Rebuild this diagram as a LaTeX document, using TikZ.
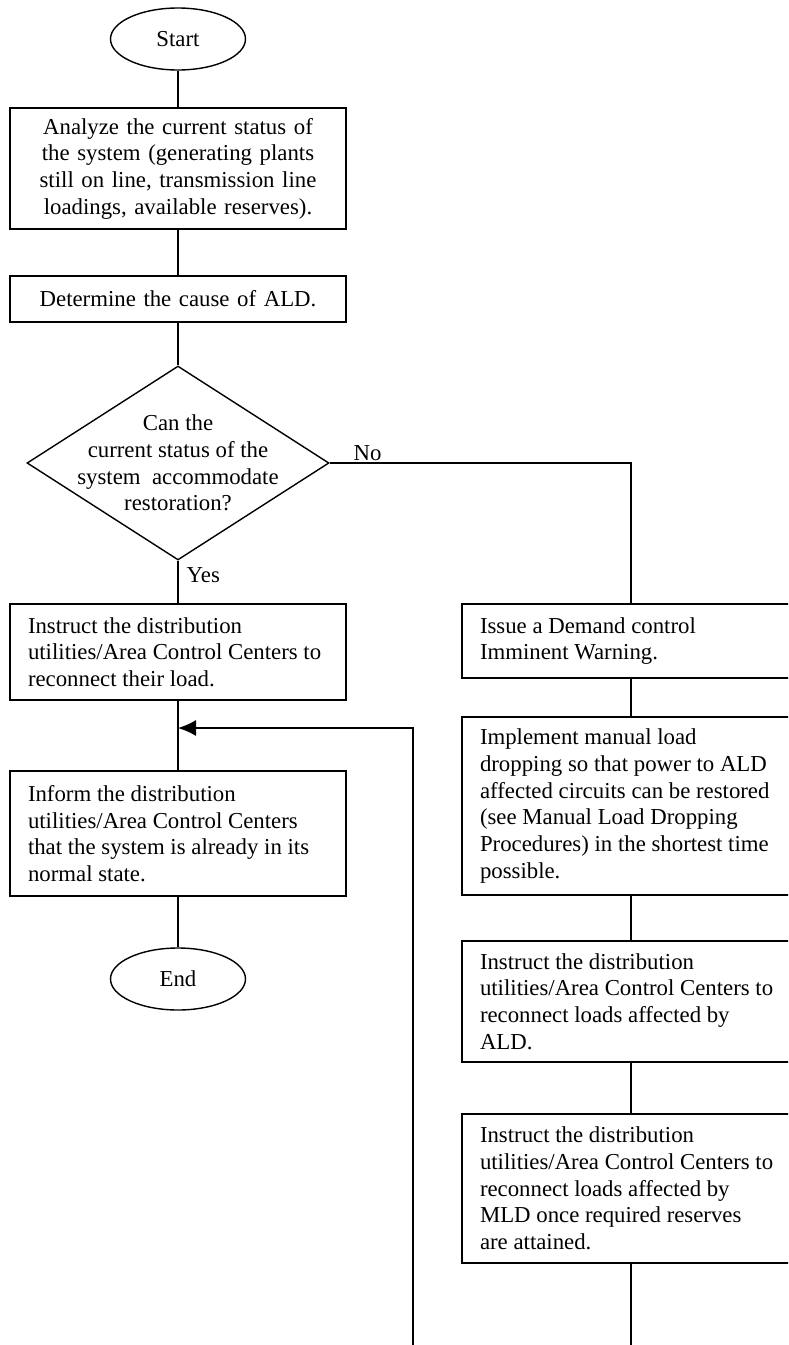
\documentclass[tikz,border=0pt]{standalone}
\usepackage{fontspec}
\setmainfont{Liberation Serif}
\usetikzlibrary{shapes.geometric,arrows.meta}
\begin{document}
\begin{tikzpicture}[x=0.5pt,y=-0.5pt,line width=0.7pt,>={Latex[length=9pt,width=8pt]},
	every node/.style={font=\fontsize{11.4}{13.35}\selectfont},
	terminal/.style={draw,ellipse,minimum width=67.5pt,minimum height=31pt,inner sep=0pt},
	stepbox/.style={draw,rectangle,inner xsep=9pt,inner ysep=0pt,align=flush left,text width=#1},
	decision/.style={draw,diamond,minimum width=151pt,minimum height=97pt,inner sep=0pt}]
	\useasboundingbox (0,0) rectangle (788,1345);
	\clip (0,0) rectangle (788,1345); % right column runs off the page
	
	% left column
	\node[terminal] (start) at (178,39) {Start};
	\node[stepbox=150pt,align=center,minimum height=60.5pt] (analyze) at (178,168.5) {Analyze the current status of\\the system (generating plants\\still on line, transmission line\\loadings, available reserves).};
	\node[stepbox=150pt,align=center,minimum height=23pt] (cause) at (178,299) {Determine the cause of ALD.};
	\node[decision] (decide) at (178,463) {};
	\node[align=center,inner sep=0pt] (question) at (decide.center) {Can the\\current status of the\\system \ accommodate\\restoration?};
	\node[stepbox=150pt,minimum height=48pt] (reconnect) at (178,652) {Instruct the distribution\\utilities/Area Control Centers to\\reconnect their load.};
	\node[stepbox=150pt,minimum height=62.5pt] (inform) at (178,833.5) {Inform the distribution\\utilities/Area Control Centers\\that the system is already in its\\normal state.};
	\node[terminal] (end) at (178,979) {End};
	
	% right column
	\node[stepbox=151pt,minimum height=37pt] (warning) at (631,641) {Issue a Demand control\\Imminent Warning.};
	\node[stepbox=151pt,minimum height=89pt] (dropping) at (631,806) {Implement manual load\\dropping so that power to ALD\\affected circuits can be restored\\(see Manual Load Dropping\\Procedures) in the shortest time\\possible.};
	\node[stepbox=151pt,minimum height=60.5pt] (restoreald) at (631,1001.5) {Instruct the distribution\\utilities/Area Control Centers to\\reconnect loads affected by\\ALD.};
	\node[stepbox=151pt,minimum height=74.5pt] (restoremld) at (631,1188.5) {Instruct the distribution\\utilities/Area Control Centers to\\reconnect loads affected by\\MLD once required reserves\\are attained.};
	
	\coordinate (merge)   at (178,728);
	\coordinate (loopin)  at (413,1360);
	\coordinate (tailout) at (631,1360);
	
	\draw (start) -- (analyze);
	\draw (analyze) -- (cause);
	\draw (cause) -- (decide.north);
	\draw (decide.south) -- node[pos=0.34,anchor=west,inner sep=4pt] {Yes} (reconnect);
	\draw (decide.east) -| node[pos=0.063,above,inner sep=1pt] {No} (warning.north);
	\draw (reconnect) -- (inform);
	\draw (inform) -- (end);
	\draw[->] (loopin) |- (merge); % return from the other page
	
	\draw (warning) -- (dropping);
	\draw (dropping) -- (restoreald);
	\draw (restoreald) -- (restoremld);
	\draw (restoremld) -- (tailout);
\end{tikzpicture}
\end{document}
